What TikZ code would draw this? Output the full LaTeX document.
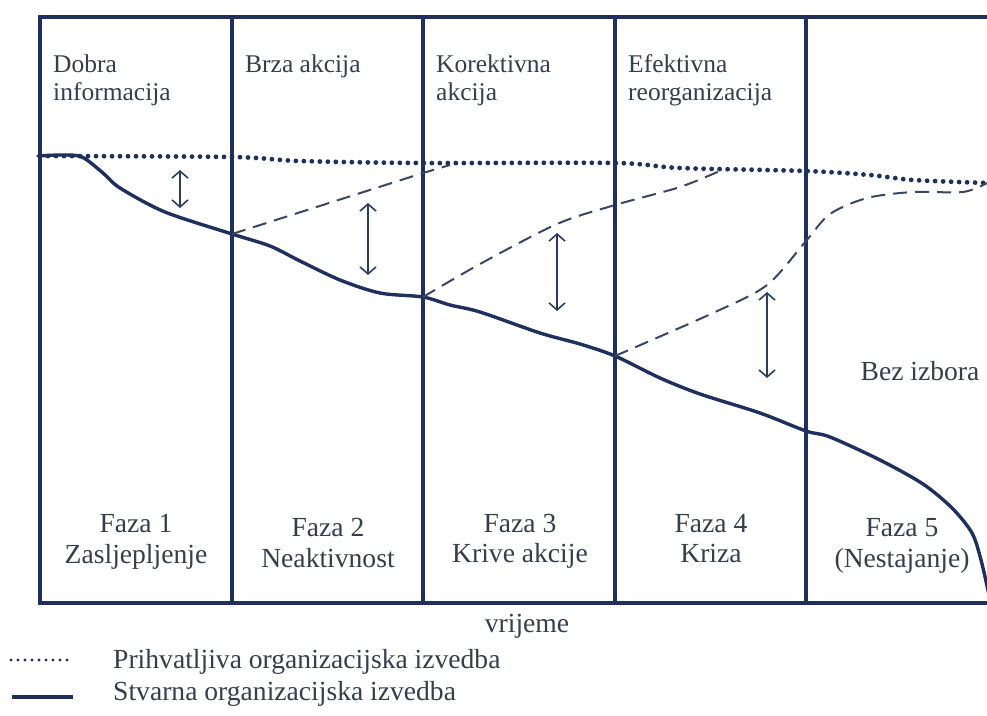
\documentclass[tikz,border=0pt]{standalone}
\usepackage{fontspec}
\setmainfont{Liberation Serif}
\usetikzlibrary{arrows.meta}
\definecolor{frameblue}{HTML}{1F2F5E}
\definecolor{inkgrey}{HTML}{373D4B}
\definecolor{dashgrey}{HTML}{3C4660}

\begin{document}
\begin{tikzpicture}[x=1pt,y=-1pt,
  frame/.style={draw=frameblue, line width=3.2pt},
  actual/.style={draw=frameblue, line width=3.4pt, line join=round, line cap=round},
  target/.style={draw=frameblue, line width=4.8pt, line cap=round, dash pattern=on 0pt off 8pt},
  targetkey/.style={draw=frameblue, line width=3.4pt, line cap=round, dash pattern=on 0pt off 7pt},
  recovery/.style={draw=dashgrey, line width=2pt, dash pattern=on 14pt off 8pt},
  gap/.style={draw=frameblue!85!gray, line width=1.6pt,
    {Straight Barb[length=7pt,width=16pt]}-{Straight Barb[length=7pt,width=16pt]}},
  lbl/.style={text=inkgrey, font=\fontsize{25.5}{28}\selectfont, inner sep=0pt},
  biglbl/.style={lbl, font=\fontsize{27.6}{30}\selectfont},
]
\useasboundingbox (0,0) rectangle (987,715);
\fill[white] (0,0) rectangle (987,715);

% phase frame
\draw[frame] (987,17) -- (40,17) -- (40,603) -- (987,603);
\foreach \x/\n in {232/d1,423/d2,615/d3,806/d4}
  \draw[frame] (\x,17) coordinate (\n top) -- (\x,603) coordinate (\n bot);

% acceptable performance (dotted)
\draw[target] plot[smooth, tension=0.5] coordinates
  {(40,156) (232,157) (300,161) (423,163) (615,163) (680,168) (806,171) (870,175) (913,180) (987,183)};

% actual performance (solid)
\coordinate (p1) at (232,234);
\coordinate (p2) at (423,297);
\coordinate (p3) at (615,356);
\coordinate (p4) at (806,431);
\draw[actual] plot[smooth, tension=0.5] coordinates
  {(38,156) (62,155) (82,157) (103,173) (120,188) (165,212) (p1) (270,246) (300,261)
   (340,280) (380,293) (p2) (450,305) (480,312) (540,333) (580,344) (p3) (660,378)
   (700,394) (760,413) (p4) (830,437) (880,460) (923,484) (952,508) (972,533) (981,560) (989,595)};

% recovery paths (dashed)
\draw[recovery] (p1) -- (423,173) -- (450,165);
\draw[recovery] plot[smooth, tension=0.5] coordinates
  {(p2) (480,264) (557,224) (615,205) (680,187) (722,170)};
\draw[recovery] plot[smooth, tension=0.5] coordinates
  {(p3) (713,313) (767,285) (806,241) (830,214) (867,198) (913,192) (963,192) (987,183)};

% performance gaps
\draw[gap] (180,170) coordinate (g1a) -- (180,208) coordinate (g1b);
\draw[gap] (368,203) coordinate (g2a) -- (368,275) coordinate (g2b);
\draw[gap] (557,233) coordinate (g3a) -- (557,311) coordinate (g3b);
\draw[gap] (767,292) coordinate (g4a) -- (767,378) coordinate (g4b);

% required responses
\node[lbl, anchor=base west] (r1a) at (53,72) {Dobra};
\node[lbl, anchor=base west] (r1b) at (53,100) {informacija};
\node[lbl, anchor=base west] (r2a) at (245,72) {Brza akcija};
\node[lbl, anchor=base west] (r3a) at (436,72) {Korektivna};
\node[lbl, anchor=base west] (r3b) at (436,100) {akcija};
\node[lbl, anchor=base west] (r4a) at (628,72) {Efektivna};
\node[lbl, anchor=base west] (r4b) at (628,100) {reorganizacija};
\node[biglbl, anchor=base] (r5a) at (920,380) {Bez izbora};

% phase names
\node[biglbl, anchor=base] (f1a) at (136,532) {Faza 1};
\node[biglbl, anchor=base] (f1b) at (136,563) {Zasljepljenje};
\node[biglbl, anchor=base] (f2a) at (328,536) {Faza 2};
\node[biglbl, anchor=base] (f2b) at (328,567) {Neaktivnost};
\node[biglbl, anchor=base] (f3a) at (520,532) {Faza 3};
\node[biglbl, anchor=base] (f3b) at (520,562) {Krive akcije};
\node[biglbl, anchor=base] (f4a) at (711,532) {Faza 4};
\node[biglbl, anchor=base] (f4b) at (711,562) {Kriza};
\node[biglbl, anchor=base] (f5a) at (902,536) {Faza 5};
\node[biglbl, anchor=base] (f5b) at (902,567) {(Nestajanje)};

% time axis and legend
\node[biglbl, anchor=base] (time) at (527,632) {vrijeme};
\draw[targetkey] (11,660) coordinate (k1a) -- (72,660) coordinate (k1b);
\draw[actual, line cap=butt, line width=3.6pt] (12,697) coordinate (k2a) -- (73,697) coordinate (k2b);
\node[biglbl, anchor=base west] (k1) at (113,668) {Prihvatljiva organizacijska izvedba};
\node[biglbl, anchor=base west] (k2) at (113,700) {Stvarna organizacijska izvedba};
\end{tikzpicture}
\end{document}
